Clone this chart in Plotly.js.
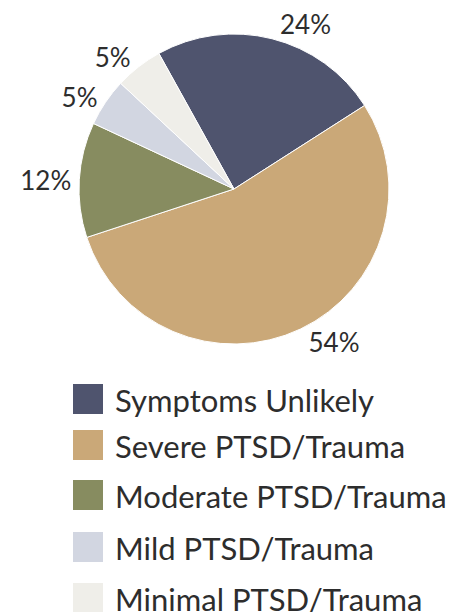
<!DOCTYPE html>
<html>
<head>
<meta charset="utf-8">
<script src="https://cdn.plot.ly/plotly-3.0.1.min.js"></script>
<style>html,body{margin:0;padding:0;background:#fff;}#chart{width:454px;height:612px;}</style>
</head>
<body>
<div id="chart"></div>
<script>
const categories = ["Symptoms Unlikely", "Severe PTSD/Trauma", "Moderate PTSD/Trauma", "Mild PTSD/Trauma", "Minimal PTSD/Trauma"];
const values = [24, 54, 12, 5, 5];
const colors = ["#4f546e", "#caa878", "#878c60", "#d2d6e1", "#efeee9"];

const W = 454, H = 612;
const FONT = "Lato, 'Open Sans', sans-serif";
const TXT = "#2d2d2d";

const trace = {
  type: "pie",
  labels: categories,
  values: values,
  sort: false,
  direction: "clockwise",
  rotation: -29,
  marker: { colors: colors, line: { color: "#ffffff", width: 1 } },
  textinfo: "percent",
  texttemplate: "%{percent:.0%}",
  textposition: "outside",
  outsidetextfont: { family: FONT, size: 26, color: TXT },
  showlegend: false,
  hoverinfo: "label+percent",
  domain: { x: [79 / W, 389 / W], y: [1 - 344 / H, 1 - 34 / H] }
};

// manual legend (large swatches)
const legTop = 399, legStep = [0, 46, 96, 148, 199];
const shapes = [], annotations = [];
categories.forEach((c, i) => {
  const yc = legTop + legStep[i];
  shapes.push({
    type: "rect", xref: "paper", yref: "paper",
    x0: 73 / W, x1: 103 / W, y0: 1 - (yc + 15) / H, y1: 1 - (yc - 15) / H,
    fillcolor: colors[i], line: { width: 0 }
  });
  annotations.push({
    xref: "paper", yref: "paper", x: 113 / W, y: 1 - (yc + 1) / H,
    xanchor: "left", yanchor: "middle", showarrow: false,
    text: c, font: { family: FONT, size: 31, color: TXT }
  });
});

const layout = {
  width: W, height: H,
  margin: { l: 0, r: 0, t: 0, b: 0 },
  paper_bgcolor: "#ffffff",
  showlegend: false,
  shapes: shapes,
  annotations: annotations
};

Plotly.newPlot("chart", [trace], layout, { displayModeBar: false, staticPlot: true });
</script>
</body>
</html>
